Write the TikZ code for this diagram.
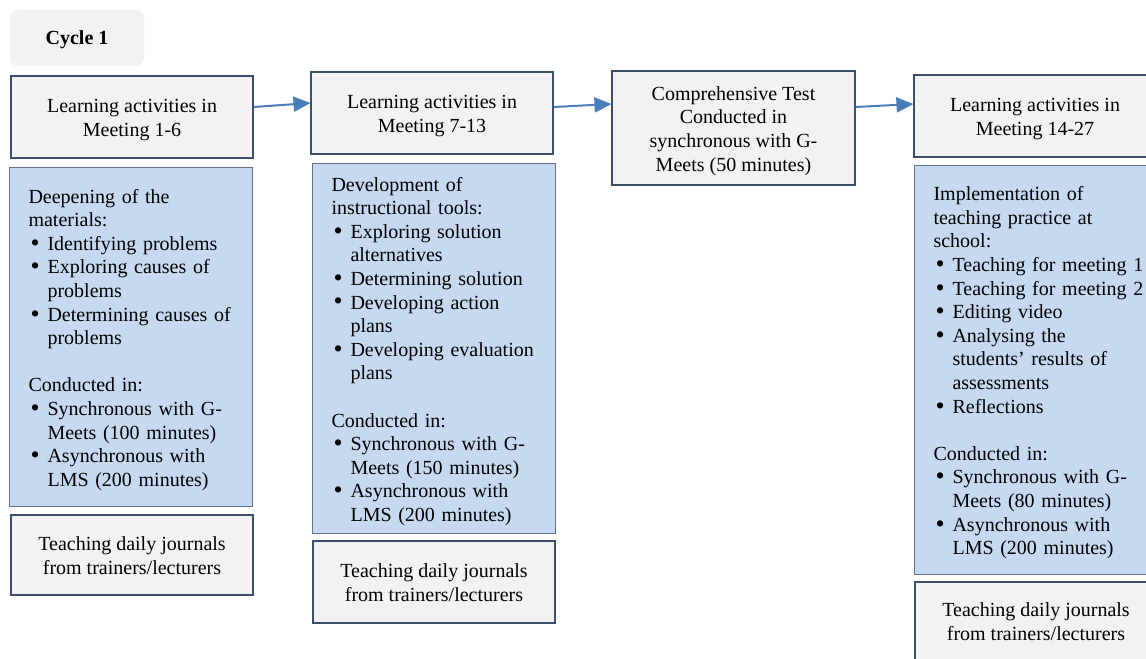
\documentclass[tikz,border=0pt]{standalone}
\usepackage{fontspec}
\setmainfont{Liberation Serif}
\usetikzlibrary{arrows.meta,calc}
\definecolor{boxgray}{HTML}{F2F2F2}
\definecolor{boxblue}{HTML}{C6D9F1}
\definecolor{edgeblue}{HTML}{3B4E6B}
\definecolor{arrowblue}{HTML}{4A7EBB}
\newcommand{\tpa}{\rule{0pt}{15pt}}
\newcommand{\tpb}{\rule[-3.5pt]{0pt}{3.5pt}}
\newcommand{\itm}[1]{\makebox[14.25pt][l]{\hspace{1.5pt}\raisebox{-0.1ex}{\scalebox{1.3}{\textbullet}}}\mbox{#1}}
\newcommand{\cnt}[1]{\hspace*{14.25pt}\mbox{#1}}

\begin{document}
\begin{tikzpicture}[x=0.75pt, y=-0.75pt,
	font=\fontsize{15}{17.7}\selectfont,
	topbox/.style={draw=edgeblue, fill=boxgray, line width=0.8pt, minimum width=181.5pt, minimum height=61.5pt, align=center, inner sep=0pt},
	listbox/.style={draw=edgeblue!80, fill=boxblue, line width=0.8pt, anchor=north west, minimum width=182.25pt, text width=153.75pt, inner xsep=14.25pt, inner ysep=0pt, align=left},
	journalbox/.style={draw=edgeblue, fill=boxgray, line width=0.8pt, minimum width=181.5pt, minimum height=60pt, align=center, inner sep=0pt},
	flow/.style={draw=arrowblue, line width=1.5pt, -{Triangle[length=12.75pt, width=11.25pt]}}]
	\clip (0,0) rectangle (1146,658);
	\useasboundingbox (0,0) rectangle (1146,658);
	\node[fill=boxgray, rounded corners=6pt, minimum width=100.5pt, minimum height=42pt, inner sep=0pt] (cycle) at (77,38) {\rule{0pt}{13.5pt}\bfseries Cycle 1};

	\node[topbox] (a1) at (132,117) {\tpa Learning activities in\\Meeting 1-6\tpb};
	\node[topbox] (a2) at (432,113) {\tpa Learning activities in\\Meeting 7-13\tpb};
	\node[topbox, minimum width=182.25pt, minimum height=85.5pt] (a3) at (733.5,128) {\tpa Comprehensive Test\\Conducted in\\synchronous with G-\\Meets (50 minutes)\tpb};
	\node[topbox] (a4) at (1035,116) {\tpa Learning activities in\\Meeting 14-27\tpb};

	\node[listbox, minimum height=254.25pt] (b1) at (9,167) {\tpa Deepening of the\\materials:\\
		\itm{Identifying problems}\\\itm{Exploring causes of}\\\cnt{problems}\\\itm{Determining causes of}\\\cnt{problems}\\[17.7pt]
		Conducted in:\\\itm{Synchronous with G-}\\\cnt{Meets (100 minutes)}\\\itm{Asynchronous with}\\\cnt{LMS (200 minutes)}\tpb};
	\node[listbox, minimum height=277.5pt] (b2) at (312,163) {\tpa Development of\\instructional tools:\\
		\itm{Exploring solution}\\\cnt{alternatives}\\\itm{Determining solution}\\\itm{Developing action}\\\cnt{plans}\\\itm{Developing evaluation}\\\cnt{plans}\\[17.7pt]
		Conducted in:\\\itm{Synchronous with G-}\\\cnt{Meets (150 minutes)}\\\itm{Asynchronous with}\\\cnt{LMS (200 minutes)}\tpb};
	\node[listbox, minimum height=306.75pt] (b4) at (914,165) {\tpa Implementation of\\teaching practice at\\school:\\
		\itm{Teaching for meeting 1}\\\itm{Teaching for meeting 2}\\\itm{Editing video}\\\itm{Analysing the}\\\cnt{students' results of}\\\cnt{assessments}\\\itm{Reflections}\\[17.7pt]
		Conducted in:\\\itm{Synchronous with G-}\\\cnt{Meets (80 minutes)}\\\itm{Asynchronous with}\\\cnt{LMS (200 minutes)}\tpb};

	\node[journalbox] (c1) at (132,555) {\tpa Teaching daily journals\\from trainers/lecturers\tpb};
	\node[journalbox, minimum height=61.5pt] (c2) at (434,582) {\tpa Teaching daily journals\\from trainers/lecturers\tpb};
	\node[journalbox, minimum height=58.5pt] (c4) at (1036,621) {\tpa Teaching daily journals\\from trainers/lecturers\tpb};

	\draw[flow] ($(a1.east)+(0,-10)$) -- ($(a2.west)+(0,-10)$);
	\draw[flow] ($(a2.east)+(0,-6)$) -- ($(a3.west)+(0,-24)$);
	\draw[flow] ($(a3.east)+(0,-21)$) -- ($(a4.west)+(0,-12)$);
\end{tikzpicture}
\end{document}
